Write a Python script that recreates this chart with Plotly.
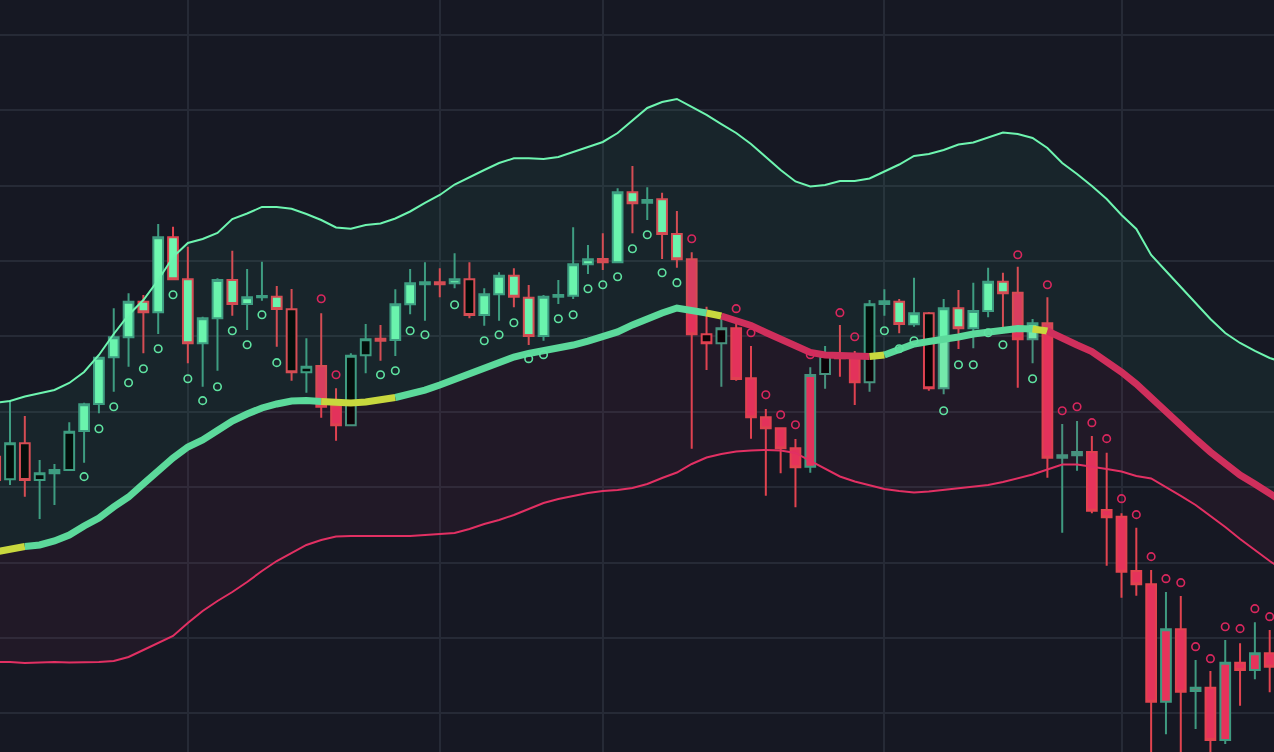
import plotly.graph_objects as go

# ---------------- data (bar number, prices) ----------------
bars = list(range(-1, 86))          # candle bars
line_bars = list(range(-1, 87))     # indicator points

open_ = [134.06, 131.06, 135.83, 130.97, 131.86, 132.29, 137.47, 141.05, 147.24, 149.89,
         154.62, 153.21, 163.16, 157.59, 149.10, 152.41, 157.49, 154.31, 155.20, 155.28,
         153.61, 145.25, 146.09, 140.78, 138.22, 147.51, 149.71, 149.54, 154.27, 156.92,
         157.19, 157.06, 157.59, 152.85, 155.60, 158.06, 155.15, 150.07, 155.28, 155.41,
         159.58, 160.28, 159.84, 169.13, 167.75, 168.20, 163.59, 160.24, 150.29, 149.10,
         151.09, 144.46, 139.28, 137.82, 135.17, 132.73, 145.03, 147.55, 147.11, 143.93,
         154.31, 154.62, 151.62, 153.08, 143.13, 153.74, 151.09, 153.38, 157.27, 155.81,
         149.63, 151.75, 133.93, 134.24, 134.68, 126.99, 126.10, 118.90, 117.13, 101.56,
         111.17, 102.98, 103.42, 96.48, 106.74, 105.77, 107.98]
high = [134.95, 141.58, 139.46, 133.62, 133.09, 138.62, 141.22, 147.19, 153.74, 155.73,
        155.50, 164.92, 164.56, 161.91, 152.63, 157.72, 161.38, 158.95, 159.92, 156.70,
        156.30, 149.76, 153.08, 143.13, 147.77, 151.66, 151.53, 156.26, 158.95, 159.84,
        159.04, 161.03, 159.84, 156.39, 158.51, 159.04, 156.83, 155.50, 157.49, 164.48,
        162.14, 163.69, 169.66, 172.61, 169.79, 169.07, 166.65, 161.17, 153.95, 152.72,
        151.96, 148.74, 140.38, 137.96, 136.41, 145.92, 148.74, 151.53, 148.08, 154.84,
        156.26, 154.97, 157.80, 153.25, 154.97, 156.17, 157.14, 159.12, 158.46, 159.26,
        152.32, 155.20, 138.39, 138.79, 136.80, 134.59, 126.55, 124.64, 119.03, 116.11,
        115.58, 107.09, 105.64, 109.75, 109.31, 112.09, 111.07]
low = [130.17, 130.30, 128.75, 125.79, 127.65, 132.29, 133.26, 139.81, 142.68, 145.99,
       147.77, 150.33, 157.59, 146.45, 143.34, 145.46, 152.76, 150.86, 154.75, 148.65,
       144.14, 142.55, 139.23, 136.18, 138.22, 145.12, 146.79, 147.41, 152.94, 152.10,
       155.20, 156.39, 152.41, 151.43, 152.10, 153.87, 148.87, 149.44, 154.31, 154.97,
       158.29, 158.82, 159.84, 163.69, 165.45, 160.28, 159.12, 135.12, 145.56, 143.34,
       144.14, 136.45, 128.89, 131.86, 127.35, 131.94, 143.08, 144.67, 140.92, 142.68,
       152.76, 150.42, 151.30, 142.81, 142.33, 148.34, 148.43, 152.55, 150.95, 143.21,
       146.45, 131.27, 123.98, 132.20, 126.55, 119.60, 115.36, 115.62, 93.83, 97.24,
       93.83, 97.94, 93.83, 95.95, 101.03, 104.54, 102.81]
close = [130.97, 135.83, 130.97, 131.86, 132.29, 137.37, 141.01, 147.19, 149.89, 154.62,
         153.21, 163.16, 157.59, 149.10, 152.41, 157.49, 154.31, 155.20, 155.37, 153.65,
         145.25, 145.99, 140.69, 138.22, 147.45, 149.63, 149.44, 154.27, 157.06, 157.19,
         156.92, 157.59, 152.85, 155.60, 158.06, 155.28, 150.07, 155.28, 155.50, 159.58,
         160.24, 159.84, 169.13, 167.67, 168.10, 163.59, 160.24, 150.29, 149.10, 151.09,
         144.36, 139.28, 137.82, 135.17, 132.65, 144.89, 147.41, 147.11, 143.93, 154.27,
         154.67, 151.66, 153.08, 143.13, 153.74, 151.09, 153.38, 157.27, 155.73, 149.63,
         151.75, 133.93, 134.24, 134.68, 126.90, 126.02, 118.81, 117.13, 101.56, 111.17,
         102.89, 103.42, 96.48, 106.74, 105.77, 107.98, 106.21]

# body tone: bull (light), bear (red), hollow (black), flat (doji)
body_tone = ["bear", "hollow", "hollow", "hollow", "flat", "hollow", "bull", "bull", "bull", "bull",
             "bull", "bull", "bull", "bull", "bull", "bull", "bull", "bull", "flat", "bull",
             "hollow", "hollow", "bear", "bear", "hollow", "hollow", "bear", "bull", "bull", "flat",
             "bear", "bull", "hollow", "bull", "bull", "bull", "bull", "bull", "flat", "bull",
             "bull", "bear", "bull", "bull", "flat", "bull", "bull", "bear", "hollow", "hollow",
             "bear", "bear", "bear", "bear", "bear", "bear", "hollow", "bear", "bear", "hollow",
             "flat", "bull", "bull", "hollow", "bull", "bull", "bull", "bull", "bull", "bear",
             "bull", "bear", "flat", "flat", "bear", "bear", "bear", "bear", "bear", "bear",
             "bear", "bear", "bear", "bear", "bear", "bear", "bear"]
# outline tone: up / down
edge_tone = ["down", "up", "down", "up", "up", "up", "up", "up", "up", "up",
             "down", "up", "down", "down", "up", "up", "down", "up", "up", "down",
             "down", "up", "down", "down", "up", "up", "down", "up", "up", "up",
             "down", "up", "down", "up", "up", "down", "down", "up", "up", "up",
             "up", "down", "up", "down", "up", "down", "down", "down", "down", "up",
             "down", "down", "down", "down", "down", "up", "up", "down", "down", "up",
             "up", "down", "up", "down", "up", "down", "up", "up", "down", "down",
             "up", "down", "up", "up", "down", "down", "down", "down", "down", "up",
             "down", "up", "down", "up", "down", "up", "down"]

upper_band = [141.18, 141.45, 142.04, 142.44, 142.90, 143.83, 145.29, 147.55, 150.33, 152.85,
              154.84, 157.49, 160.54, 162.40, 162.93, 163.73, 165.58, 166.31, 167.18, 167.18,
              166.95, 166.25, 165.45, 164.46, 164.30, 164.79, 164.99, 165.65, 166.58, 167.71,
              168.77, 170.16, 171.15, 172.08, 173.01, 173.63, 173.63, 173.54, 173.81, 174.47,
              175.13, 175.80, 176.99, 178.71, 180.31, 181.10, 181.50, 180.44, 179.38, 178.18,
              176.99, 175.53, 173.81, 172.08, 170.56, 169.89, 170.09, 170.62, 170.62, 170.96,
              171.88, 172.81, 173.94, 174.20, 174.74, 175.47, 175.73, 176.39, 177.06, 176.86,
              176.33, 175.00, 173.01, 171.55, 169.96, 168.24, 166.11, 164.26, 160.81, 158.69,
              156.57, 154.44, 152.32, 150.46, 149.14, 148.08, 147.15, 146.49]
basis = [121.42, 121.82, 122.15, 122.35, 122.88, 123.67, 124.87, 125.93, 127.39, 128.71,
         130.44, 132.29, 133.89, 135.34, 136.27, 137.53, 138.79, 139.72, 140.52, 141.05,
         141.45, 141.51, 141.38, 141.18, 141.18, 141.31, 141.58, 141.91, 142.37, 142.90,
         143.57, 144.36, 145.09, 145.82, 146.55, 147.28, 147.75, 148.08, 148.41, 148.87,
         149.40, 149.93, 150.60, 151.53, 152.45, 153.12, 153.78, 153.45, 153.12, 152.72,
         152.19, 151.46, 150.53, 149.60, 148.61, 147.88, 147.55, 147.41, 147.35, 147.35,
         147.55, 148.34, 149.01, 149.34, 149.54, 149.93, 150.33, 150.60, 150.86, 151.06,
         151.00, 150.73, 149.67, 148.87, 148.01, 146.75, 145.29, 143.70, 141.84, 139.92,
         138.00, 136.41, 134.68, 133.09, 131.63, 130.44, 129.11, 127.92]
lower_band = [106.83, 106.83, 106.70, 106.76, 106.83, 106.76, 106.76, 106.83, 106.96, 107.49,
              108.42, 109.35, 110.28, 112.00, 113.59, 114.92, 116.11, 117.44, 118.90, 120.22,
              121.29, 122.35, 123.01, 123.47, 123.54, 123.54, 123.54, 123.54, 123.54, 123.67,
              123.81, 123.94, 124.47, 125.13, 125.66, 126.33, 127.12, 127.92, 128.45, 128.85,
              129.24, 129.51, 129.64, 129.91, 130.44, 131.23, 131.96, 133.09, 133.95, 134.42,
              134.75, 134.88, 134.95, 134.88, 134.55, 133.49, 132.43, 131.43, 130.77, 130.24,
              129.77, 129.51, 129.31, 129.44, 129.64, 129.84, 130.04, 130.30, 130.70, 131.17,
              131.70, 132.36, 133.02, 133.02, 132.76, 132.43, 132.10, 131.50, 131.17, 130.04,
              128.85, 127.65, 126.19, 124.73, 123.14, 121.68, 120.22, 118.90]
# trend state of the basis line (segment ending at each point)
basis_state = ["neutral", "neutral", "neutral", "bull", "bull", "bull", "bull", "bull", "bull", "bull",
               "bull", "bull", "bull", "bull", "bull", "bull", "bull", "bull", "bull", "bull",
               "bull", "bull", "bull", "neutral", "neutral", "neutral", "neutral", "neutral", "bull", "bull",
               "bull", "bull", "bull", "bull", "bull", "bull", "bull", "bull", "bull", "bull",
               "bull", "bull", "bull", "bull", "bull", "bull", "bull", "bull", "bull", "neutral",
               "bear", "bear", "bear", "bear", "bear", "bear", "bear", "bear", "bear", "bear",
               "neutral", "bull", "bull", "bull", "bull", "bull", "bull", "bull", "bull", "bull",
               "bull", "neutral", "bear", "bear", "bear", "bear", "bear", "bear", "bear", "bear",
               "bear", "bear", "bear", "bear", "bear", "bear", "bear", "bear"]

sar = [None, None, None, None, None, None, 131.41, 137.77, 140.69, 143.87,
       145.73, 148.38, 155.54, 144.40, 141.49, 143.34, 150.77, 148.91, 152.89, 146.53,
       None, None, 155.01, 144.93, None, None, 144.93, 145.46, 150.77, 150.24,
       None, 154.22, None, 149.44, 150.24, 151.83, 147.06, 147.59, 152.36, 152.89,
       156.34, 156.87, 157.93, 161.64, 163.50, 158.46, 157.14, 162.97, None, None,
       153.69, 150.50, 142.28, 139.63, 138.30, 147.59, None, 153.16, 149.97, None,
       150.77, 148.38, 149.44, None, 140.16, 146.26, 146.26, 150.50, 148.91, 160.85,
       144.40, 156.87, 140.16, 140.69, 138.57, 136.45, 128.49, 126.37, 120.80, 117.88,
       117.35, 108.86, 107.27, 111.51, 111.25, 113.90, 112.84]
sar_trend = ["", "", "", "", "", "", "up", "up", "up", "up",
             "up", "up", "up", "up", "up", "up", "up", "up", "up", "up",
             "", "", "down", "down", "", "", "up", "up", "up", "up",
             "", "up", "", "up", "up", "up", "up", "up", "up", "up",
             "up", "up", "up", "up", "up", "up", "up", "down", "", "",
             "down", "down", "down", "down", "down", "down", "", "down", "down", "",
             "up", "up", "up", "", "up", "up", "up", "up", "up", "down",
             "up", "down", "down", "down", "down", "down", "down", "down", "down", "down",
             "down", "down", "down", "down", "down", "down", "down"]

grid_bars = [12, 29, 40, 59, 75]

# ---------------- styles ----------------
BG = "#161823"
GRID = "#262a36"
BODY = {"bull": "#6ff8b0", "bear": "#e6335b", "hollow": "#000000", "flat": "#3f9a80"}
EDGE = {"up": "#3f9a80", "down": "#e2434f"}
BASIS = {"bull": "#5cd99b", "neutral": "#c8d83e", "bear": "#cf2f5c"}

fig = go.Figure()

# fills: basis -> upper (teal tint), lower -> basis (purple tint)
fig.add_trace(go.Scatter(x=line_bars, y=basis, mode="lines", line=dict(width=0),
                         hoverinfo="skip"))
fig.add_trace(go.Scatter(x=line_bars, y=upper_band, mode="lines", line=dict(width=0),
                         fill="tonexty", fillcolor="rgba(60,200,150,0.075)", hoverinfo="skip"))
fig.add_trace(go.Scatter(x=line_bars, y=lower_band, mode="lines", line=dict(width=0),
                         hoverinfo="skip"))
fig.add_trace(go.Scatter(x=line_bars, y=basis, mode="lines", line=dict(width=0),
                         fill="tonexty", fillcolor="rgba(200,40,110,0.065)", hoverinfo="skip"))

# band lines
fig.add_trace(go.Scatter(x=line_bars, y=upper_band, mode="lines",
                         line=dict(color="#6ef5b0", width=2), hoverinfo="skip"))
fig.add_trace(go.Scatter(x=line_bars, y=lower_band, mode="lines",
                         line=dict(color="#e23063", width=2), hoverinfo="skip"))

# basis line coloured by state
k = 1
n = len(line_bars)
while k < n:
    st = basis_state[k]
    j = k
    while j + 1 < n and basis_state[j + 1] == st:
        j += 1
    xs = line_bars[k - 1:j + 1]
    ys = basis[k - 1:j + 1]
    fig.add_trace(go.Scatter(x=xs, y=ys, mode="lines",
                             line=dict(color=BASIS[st], width=7), hoverinfo="skip"))
    k = j + 1

# parabolic SAR dots
for trend, col in (("up", "#5fe3a1"), ("down", "#d9275d")):
    xs = [b for b, v, t in zip(bars, sar, sar_trend) if v is not None and t == trend]
    ys = [v for v, t in zip(sar, sar_trend) if v is not None and t == trend]
    fig.add_trace(go.Scatter(x=xs, y=ys, mode="markers",
                             marker=dict(symbol="circle-open", size=7.5, color=col,
                                         line=dict(width=1.6, color=col)),
                             hoverinfo="skip"))

# candles grouped by body/outline tone
groups = {}
for i, key in enumerate(zip(body_tone, edge_tone)):
    groups.setdefault(key, []).append(i)
for (bt, et), members in groups.items():
    style = dict(fillcolor=BODY[bt], line=dict(color=EDGE[et], width=2))
    fig.add_trace(go.Candlestick(
        x=[bars[i] for i in members],
        open=[open_[i] for i in members],
        high=[high[i] for i in members],
        low=[low[i] for i in members],
        close=[close[i] for i in members],
        increasing=style, decreasing=style, whiskerwidth=0, hoverinfo="skip"))

fig.update_layout(
    width=1274, height=752,
    margin=dict(l=0, r=0, t=0, b=0),
    paper_bgcolor=BG, plot_bgcolor=BG,
    showlegend=False, boxgap=0.27, boxgroupgap=0.1,
    xaxis=dict(range=[-0.675, 85.29], tickvals=grid_bars, showticklabels=False,
               showgrid=True, gridcolor=GRID, gridwidth=1.5, zeroline=False,
               showline=False, ticks="", rangeslider=dict(visible=False)),
    yaxis=dict(range=[94.89, 194.63], tick0=100, dtick=10, showticklabels=False,
               showgrid=True, gridcolor=GRID, gridwidth=1.5, zeroline=False,
               showline=False, ticks=""),
)

fig.write_html("out.html", config={"displayModeBar": False},
               post_script="document.body.style.margin='0';"
                           "document.body.style.background='" + BG + "';"
                           "document.body.style.overflow='hidden';")
